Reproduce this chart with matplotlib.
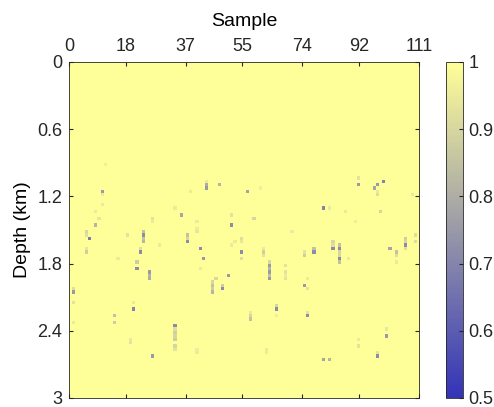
import numpy as np
import matplotlib.pyplot as plt
from matplotlib.colors import LinearSegmentedColormap

plt.rcParams['font.family'] = ['Liberation Sans', 'DejaVu Sans']

# grid of the section
n_samples = 111
max_depth = 3.0
dz = 0.03

xticks = [0, 18, 37, 55, 74, 92, 111]
yticks = [0, 0.6, 1.2, 1.8, 2.4, 3]
ytick_labels = ["0", "0.6", "1.2", "1.8", "2.4", "3"]
cbar_ticks = [0.5, 0.6, 0.7, 0.8, 0.9, 1]
cbar_labels = ["0.5", "0.6", "0.7", "0.8", "0.9", "1"]

# cells below 1: sample, depth (km), value
anom_sample = [11.9, 10.9, 10.9, 10.9, 8.2, 9.8, 8.9, 6.9, 5.9, 5.9, 5.9, 5.9,
               15.9, 18.7, 23.9, 23.9, 23.9, 23.9, 22.0, 22.0, 21.0, 21.0,
               25.0, 25.0, 25.0, 26.2, 26.2, 28.9, 33.0, 35.0, 38.9,
               40.0, 40.0, 40.0, 37.1, 37.1, 37.8, 41.0, 42.0,
               43.1, 43.1, 43.1, 47.0, 51.0, 51.0, 52.0, 54.0, 50.0, 46.0, 41.0,
               56.1, 60.2, 58.3, 70.0, 80.1, 82.1, 87.2, 91.2, 91.2,
               97.3, 96.3, 99.3, 97.3, 97.3, 98.2, 108.1, 90.0,
               54.0, 54.0, 54.0, 51.9, 61.1, 61.1, 61.1,
               63.2, 63.2, 63.2, 63.2, 63.2, 63.2, 68.2, 68.2, 68.2, 68.2,
               74.1, 74.1, 77.2, 77.2, 83.1, 83.1, 83.1,
               85.2, 85.2, 85.2, 85.2, 85.2, 85.2, 88.2, 101.3,
               103.2, 103.2, 103.2, 106.2, 106.2, 106.2, 106.2, 109.2, 109.2,
               1.9, 1.9, 1.9, 1.9, 14.9, 14.9, 20.1, 20.1, 19.0, 19.0, 26.0,
               33.3, 33.3, 33.3, 33.3, 33.3, 33.3, 33.3, 40.0, 40.0,
               45.0, 45.0, 45.0, 45.0, 48.1, 48.1,
               74.2, 75.2, 75.2, 65.1, 65.1, 65.1, 57.2, 57.2, 57.2, 75.2, 75.2,
               62.2, 62.2, 80.2, 82.2, 91.0, 91.0, 100.2, 100.2, 97.3, 97.3]
anom_depth = [0.92, 1.14, 1.19, 1.28, 1.32, 1.38, 1.45, 1.57, 1.52, 1.55, 1.66, 1.69,
              1.74, 1.53, 1.50, 1.53, 1.57, 1.61, 1.66, 1.69, 1.77, 1.83,
              1.87, 1.90, 1.93, 1.39, 1.42, 1.63, 1.30, 1.36, 1.16,
              1.43, 1.48, 1.52, 1.55, 1.58, 1.61, 1.66, 1.75,
              1.05, 1.08, 1.11, 1.09, 1.37, 1.45, 1.60, 1.70, 1.89, 1.92, 1.84,
              1.14, 1.125, 1.39, 1.515, 1.31, 1.29, 1.34, 1.02, 1.10,
              1.10, 1.12, 1.05, 1.16, 1.19, 1.34, 1.18, 1.43,
              1.57, 1.60, 1.76, 1.62, 1.66, 1.70, 1.73,
              1.77, 1.80, 1.83, 1.86, 1.89, 1.92, 1.80, 1.86, 1.89, 1.92,
              1.69, 1.72, 1.65, 1.68, 1.59, 1.62, 1.65,
              1.64, 1.67, 1.70, 1.73, 1.76, 1.79, 1.74, 1.67,
              1.68, 1.71, 1.78, 1.56, 1.59, 1.64, 1.67, 1.55, 1.60,
              2.03, 2.06, 2.13, 2.32, 2.27, 2.32, 2.15, 2.19, 2.46, 2.49, 2.62,
              2.34, 2.39, 2.42, 2.45, 2.48, 2.52, 2.56, 2.55, 2.58,
              1.96, 1.99, 2.02, 2.05, 1.98, 2.02,
              1.99, 1.92, 2.02, 2.16, 2.21, 2.25, 2.24, 2.27, 2.30, 2.24, 2.27,
              2.55, 2.58, 2.655, 2.64, 2.48, 2.52, 2.39, 2.43, 2.59, 2.62]
anom_value = [0.96, 0.75, 0.95, 0.95, 0.95, 0.94, 0.82, 0.68, 0.90, 0.92, 0.94, 0.88,
              0.95, 0.93, 0.85, 0.72, 0.85, 0.82, 0.92, 0.72, 0.88, 0.72,
              0.75, 0.82, 0.80, 0.93, 0.95, 0.95, 0.95, 0.78, 0.95,
              0.95, 0.95, 0.94, 0.85, 0.90, 0.72, 0.72, 0.75,
              0.95, 0.80, 0.75, 0.82, 0.93, 0.72, 0.95, 0.72, 0.75, 0.90, 0.95,
              0.78, 0.96, 0.90, 0.95, 0.70, 0.95, 0.95, 0.93, 0.75,
              0.75, 0.78, 0.70, 0.95, 0.92, 0.90, 0.95, 0.96,
              0.92, 0.94, 0.92, 0.95, 0.95, 0.88, 0.93,
              0.90, 0.75, 0.82, 0.75, 0.85, 0.75, 0.93, 0.93, 0.95, 0.93,
              0.93, 0.88, 0.85, 0.72, 0.90, 0.92, 0.72,
              0.85, 0.72, 0.90, 0.90, 0.72, 0.85, 0.95, 0.78,
              0.85, 0.92, 0.95, 0.88, 0.90, 0.72, 0.92, 0.92, 0.92,
              0.92, 0.75, 0.93, 0.95, 0.85, 0.88, 0.95, 0.70, 0.95, 0.93, 0.75,
              0.72, 0.92, 0.88, 0.90, 0.88, 0.90, 0.93, 0.96, 0.95,
              0.90, 0.85, 0.88, 0.82, 0.88, 0.72,
              0.75, 0.95, 0.93, 0.90, 0.72, 0.96, 0.95, 0.90, 0.85, 0.93, 0.72,
              0.95, 0.95, 0.78, 0.82, 0.95, 0.93, 0.94, 0.75, 0.93, 0.72]

n_rows = int(round(max_depth / dz))
grid = np.ones((n_rows, n_samples))
for s, d, v in zip(anom_sample, anom_depth, anom_value):
    grid[int(d / dz), int(s)] = v

cmap = LinearSegmentedColormap.from_list(
    "blue_yellow", [(0.2, 0.2, 0.72), (0.6, 0.6, 0.66), (1.0, 1.0, 0.6)])

fig = plt.figure(figsize=(4.94, 4.07), dpi=100)
ax = fig.add_axes([69 / 494, 9 / 407, 350 / 494, 336 / 407])
cax = fig.add_axes([446 / 494, 9 / 407, 17 / 494, 336 / 407])

im = ax.imshow(grid, cmap=cmap, vmin=0.5, vmax=1, aspect='auto',
               interpolation='nearest', extent=[0, n_samples, max_depth, 0])

ax.xaxis.tick_top()
ax.xaxis.set_label_position('top')
ax.set_xticks(xticks)
ax.set_yticks(yticks)
ax.set_yticklabels(ytick_labels)
ax.set_xlim(0, n_samples)
ax.set_ylim(max_depth, 0)
ax.set_xlabel("Sample", fontsize=14, labelpad=9)
ax.set_ylabel("Depth (km)", fontsize=14, labelpad=4)
ax.tick_params(direction='in', length=3, labelsize=13, colors='#262626',
               top=True, bottom=True, left=True, right=True, pad=5)
for sp in ax.spines.values():
    sp.set_color('#262626')
    sp.set_linewidth(0.6)

cb = fig.colorbar(im, cax=cax, ticks=cbar_ticks)
cb.set_ticklabels(cbar_labels)
cb.ax.tick_params(direction='in', length=3, labelsize=13, colors='#262626', pad=4)
cb.outline.set_edgecolor('#262626')
cb.outline.set_linewidth(0.6)

fig.savefig("out.png", dpi=100)
